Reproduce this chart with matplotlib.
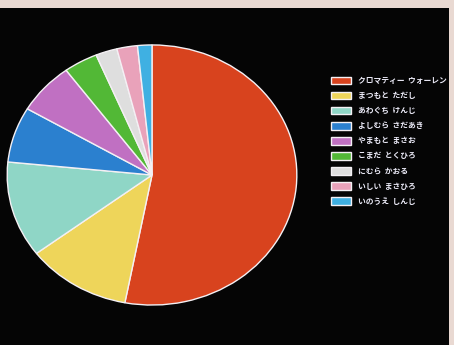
import matplotlib
matplotlib.use("Agg")
from matplotlib import pyplot as plt

plt.rcParams['font.family'] = ['Noto Sans CJK JP', 'DejaVu Sans']

players = ['クロマティー  ウォーレン', 'まつもと  ただし', 'あわぐち  けんじ', 'よしむら  さだあき',
           'やまもと  まさお', 'こまだ  とくひろ', 'にむら  かおる', 'いしい  まさひろ', 'いのうえ  しんじ']
shares = [53.0, 11.7, 11.9, 6.9, 6.4, 3.8, 2.4, 2.3, 1.6]   # 読み取った割合(%)
colors = ['#d8431e', '#eed55a', '#8fd6c6', '#2b80cf', '#c070c2',
          '#52b836', '#dedede', '#e9a2ba', '#3fb0e2']

fig = plt.figure(figsize=(4.54, 3.45), dpi=100)
fig.patch.set_facecolor('#e9d9d2')

bg = fig.add_axes([0, 0, 0.988, 0.977])   # 画面の黒い部分
bg.set_facecolor('#050505')
bg.set_xticks([])
bg.set_yticks([])
for s in bg.spines.values():
    s.set_visible(False)

ax = fig.add_axes([5/454, 38/345, 294/454, 264/345])
wedges, _ = ax.pie(shares, colors=colors, startangle=90, counterclock=False,
                   wedgeprops=dict(edgecolor='#f4f0f4', linewidth=1.0))
ax.set_aspect('auto')
ax.set_xlim(-1.015, 1.015)
ax.set_ylim(-1.015, 1.015)
ax.set_facecolor('none')

leg = fig.legend(wedges, players, loc='upper left', bbox_to_anchor=(328/454, 1 - 73/345),
                 frameon=False, fontsize=5.6, labelcolor='#ecebf8',
                 handlelength=2.6, handleheight=1.15, handletextpad=0.9,
                 labelspacing=0.78, borderaxespad=0)
for t in leg.get_texts():
    t.set_fontweight('bold')

fig.savefig('out.png', dpi=100, facecolor=fig.get_facecolor())
